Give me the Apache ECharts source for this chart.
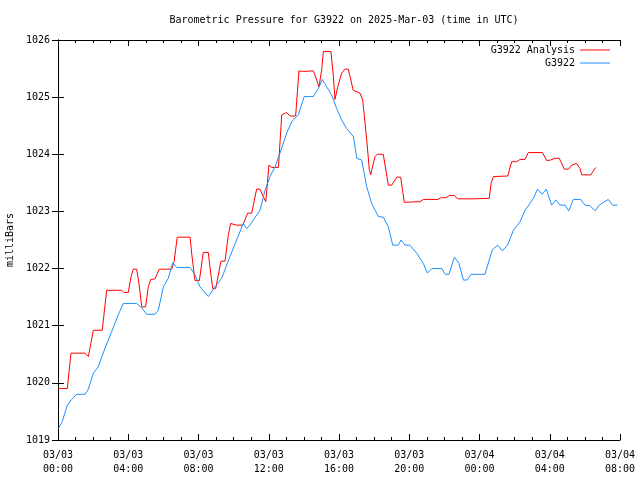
<!DOCTYPE html>
<html>
<head>
<meta charset="utf-8">
<script src="https://cdn.jsdelivr.net/npm/echarts@6/dist/echarts.min.js"></script>
<style>html,body{margin:0;padding:0;background:#fff}#c{width:640px;height:480px}</style>
</head>
<body>
<div id="c"></div>
<script>
// Hours since 2025-03-03 00:00 UTC
var xTickLabels = ['03/03\n00:00','03/03\n04:00','03/03\n08:00','03/03\n12:00','03/03\n16:00','03/03\n20:00','03/04\n00:00','03/04\n04:00','03/04\n08:00'];
var yTicks = [1019,1020,1021,1022,1023,1024,1025,1026];

var analysisTimes = [0.02,0.53,0.74,1.54,1.73,2.01,2.52,2.77,3.63,3.76,4.00,4.16,4.29,4.48,4.61,4.77,4.99,5.14,5.28,5.52,5.77,6.47,6.61,6.79,7.52,7.61,7.80,8.05,8.27,8.56,8.65,8.81,8.98,9.28,9.51,9.70,9.83,10.17,10.52,10.80,11.03,11.31,11.50,11.69,11.83,12.01,12.17,12.55,12.74,13.02,13.21,13.53,13.72,13.97,14.54,14.73,14.86,15.01,15.11,15.54,15.68,15.77,15.93,16.15,16.34,16.53,16.81,17.20,17.35,17.58,17.73,17.81,17.86,18.05,18.18,18.52,18.81,19.00,19.29,19.51,19.72,20.61,20.80,21.65,21.79,22.09,22.28,22.56,22.76,23.65,24.56,24.66,24.79,25.61,25.83,26.12,26.31,26.59,26.78,27.58,27.83,28.05,28.30,28.54,28.83,29.06,29.25,29.53,29.72,29.82,30.33,30.62];
var analysisValues = [1019.90,1019.90,1020.52,1020.52,1020.46,1020.92,1020.92,1021.62,1021.62,1021.58,1021.58,1021.86,1021.99,1021.99,1021.74,1021.33,1021.33,1021.68,1021.81,1021.82,1021.99,1021.99,1022.12,1022.55,1022.55,1022.27,1021.79,1021.79,1022.28,1022.28,1022.03,1021.65,1021.65,1022.13,1022.13,1022.59,1022.79,1022.76,1022.76,1022.97,1022.97,1023.39,1023.39,1023.26,1023.17,1023.81,1023.77,1023.77,1024.69,1024.73,1024.67,1024.67,1025.46,1025.45,1025.46,1025.30,1025.18,1025.47,1025.80,1025.80,1025.36,1024.96,1025.18,1025.42,1025.49,1025.49,1025.12,1025.07,1024.95,1024.25,1023.72,1023.64,1023.72,1023.96,1024.00,1024.00,1023.46,1023.46,1023.60,1023.60,1023.16,1023.17,1023.21,1023.21,1023.24,1023.24,1023.28,1023.28,1023.22,1023.22,1023.23,1023.49,1023.61,1023.62,1023.87,1023.87,1023.91,1023.91,1024.03,1024.03,1023.89,1023.90,1023.93,1023.93,1023.74,1023.74,1023.81,1023.84,1023.75,1023.64,1023.64,1023.77];

var stationTimes = [0.02,0.24,0.53,0.78,1.06,1.54,1.73,2.01,2.29,2.68,3.06,3.43,3.72,4.48,4.77,5.05,5.52,5.71,6.00,6.28,6.53,6.76,7.52,7.80,8.09,8.31,8.56,8.94,9.32,9.79,10.17,10.55,10.74,10.93,11.12,11.50,11.79,12.07,12.36,12.64,13.02,13.31,13.68,14.02,14.54,14.82,15.05,15.30,15.58,15.87,16.15,16.44,16.82,17.01,17.29,17.58,17.86,18.24,18.52,18.81,19.06,19.38,19.53,19.76,20.04,20.42,20.80,21.03,21.28,21.85,22.04,22.26,22.57,22.83,23.08,23.31,23.52,24.31,24.73,25.04,25.30,25.60,25.93,26.31,26.59,26.88,27.07,27.30,27.57,27.80,28.11,28.34,28.58,28.87,29.08,29.34,29.76,30.01,30.29,30.58,30.82,31.33,31.58,31.85];
var stationValues = [1019.20,1019.32,1019.61,1019.71,1019.80,1019.80,1019.89,1020.17,1020.28,1020.61,1020.90,1021.19,1021.39,1021.39,1021.31,1021.20,1021.20,1021.27,1021.68,1021.83,1022.10,1022.02,1022.02,1021.89,1021.68,1021.60,1021.51,1021.68,1021.83,1022.21,1022.50,1022.79,1022.70,1022.76,1022.85,1023.02,1023.37,1023.61,1023.78,1024.02,1024.37,1024.57,1024.69,1025.01,1025.01,1025.15,1025.31,1025.18,1025.04,1024.80,1024.60,1024.45,1024.31,1023.93,1023.90,1023.43,1023.14,1022.91,1022.90,1022.73,1022.41,1022.41,1022.50,1022.41,1022.41,1022.27,1022.09,1021.92,1022.00,1022.00,1021.90,1021.90,1022.20,1022.09,1021.80,1021.80,1021.90,1021.90,1022.33,1022.41,1022.31,1022.41,1022.67,1022.82,1023.02,1023.14,1023.23,1023.39,1023.30,1023.39,1023.11,1023.20,1023.11,1023.11,1023.01,1023.21,1023.21,1023.11,1023.10,1023.01,1023.11,1023.21,1023.11,1023.11];

function pairs(t, v) { return t.map(function (x, i) { return [x, v[i]]; }); }

var FONT = 'DejaVu Sans Mono';
var xMin = 0, xMax = 32, xInt = 4;
var yMin = yTicks[0], yMax = yTicks[yTicks.length - 1];

function xAxisCfg(pos, labels) {
  return {
    type: 'value', position: pos, min: xMin, max: xMax, interval: xInt,
    axisLine: { show: true, lineStyle: { color: '#000', width: 1 } },
    axisTick: { show: true, inside: true, length: 6, lineStyle: { color: '#000' } },
    minorTick: { show: true, splitNumber: 4, length: 3, lineStyle: { color: '#000' } },
    splitLine: { show: false },
    axisLabel: {
      show: labels, color: '#000', fontFamily: FONT, fontSize: 10, lineHeight: 14, margin: 8,
      formatter: function (v) { return xTickLabels[Math.round((v - xMin) / xInt)]; }
    }
  };
}
function yAxisCfg(pos, labels) {
  return {
    type: 'value', position: pos, min: yMin, max: yMax, interval: 1,
    name: labels ? 'milliBars' : '', nameLocation: 'middle', nameRotate: 90, nameGap: 43,
    nameTextStyle: { color: '#000', fontFamily: FONT, fontSize: 10 },
    axisLine: { show: true, lineStyle: { color: '#000', width: 1 } },
    axisTick: { show: true, inside: true, length: 6, lineStyle: { color: '#000' } },
    splitLine: { show: false },
    axisLabel: { show: labels, color: '#000', fontFamily: FONT, fontSize: 10, margin: 8,
      formatter: function (v) { return String(v); } }
  };
}

var chart = echarts.init(document.getElementById('c'), null, { renderer: 'canvas' });
chart.setOption({
  animation: false,
  backgroundColor: '#fff',
  title: {
    text: 'Barometric Pressure for G3922 on 2025-Mar-03 (time in UTC)',
    left: 339, top: 10, textAlign: 'center',
    textStyle: { color: '#000', fontFamily: FONT, fontSize: 10, fontWeight: 'normal' }
  },
  legend: {
    orient: 'vertical', right: 25, top: 40, align: 'right', itemGap: 3,
    itemWidth: 30, itemHeight: 1, icon: 'rect',
    textStyle: { color: '#000', fontFamily: FONT, fontSize: 10, padding: [0, 0, 0, 0] },
    data: ['G3922 Analysis', 'G3922']
  },
  grid: { left: 58, right: 20, top: 40, bottom: 40, containLabel: false, outerBoundsMode: 'none' },
  xAxis: [xAxisCfg('bottom', true), xAxisCfg('top', false)],
  yAxis: [yAxisCfg('left', true), yAxisCfg('right', false)],
  series: [
    { name: 'G3922 Analysis', type: 'line', xAxisIndex: 0, yAxisIndex: 0, showSymbol: false,
      lineStyle: { color: '#ff0000', width: 1 }, itemStyle: { color: '#ff0000' },
      data: pairs(analysisTimes, analysisValues) },
    { name: 'G3922', type: 'line', xAxisIndex: 0, yAxisIndex: 0, showSymbol: false,
      lineStyle: { color: '#1e90ff', width: 1 }, itemStyle: { color: '#1e90ff' },
      data: pairs(stationTimes, stationValues) }
  ]
});
</script>
</body>
</html>
